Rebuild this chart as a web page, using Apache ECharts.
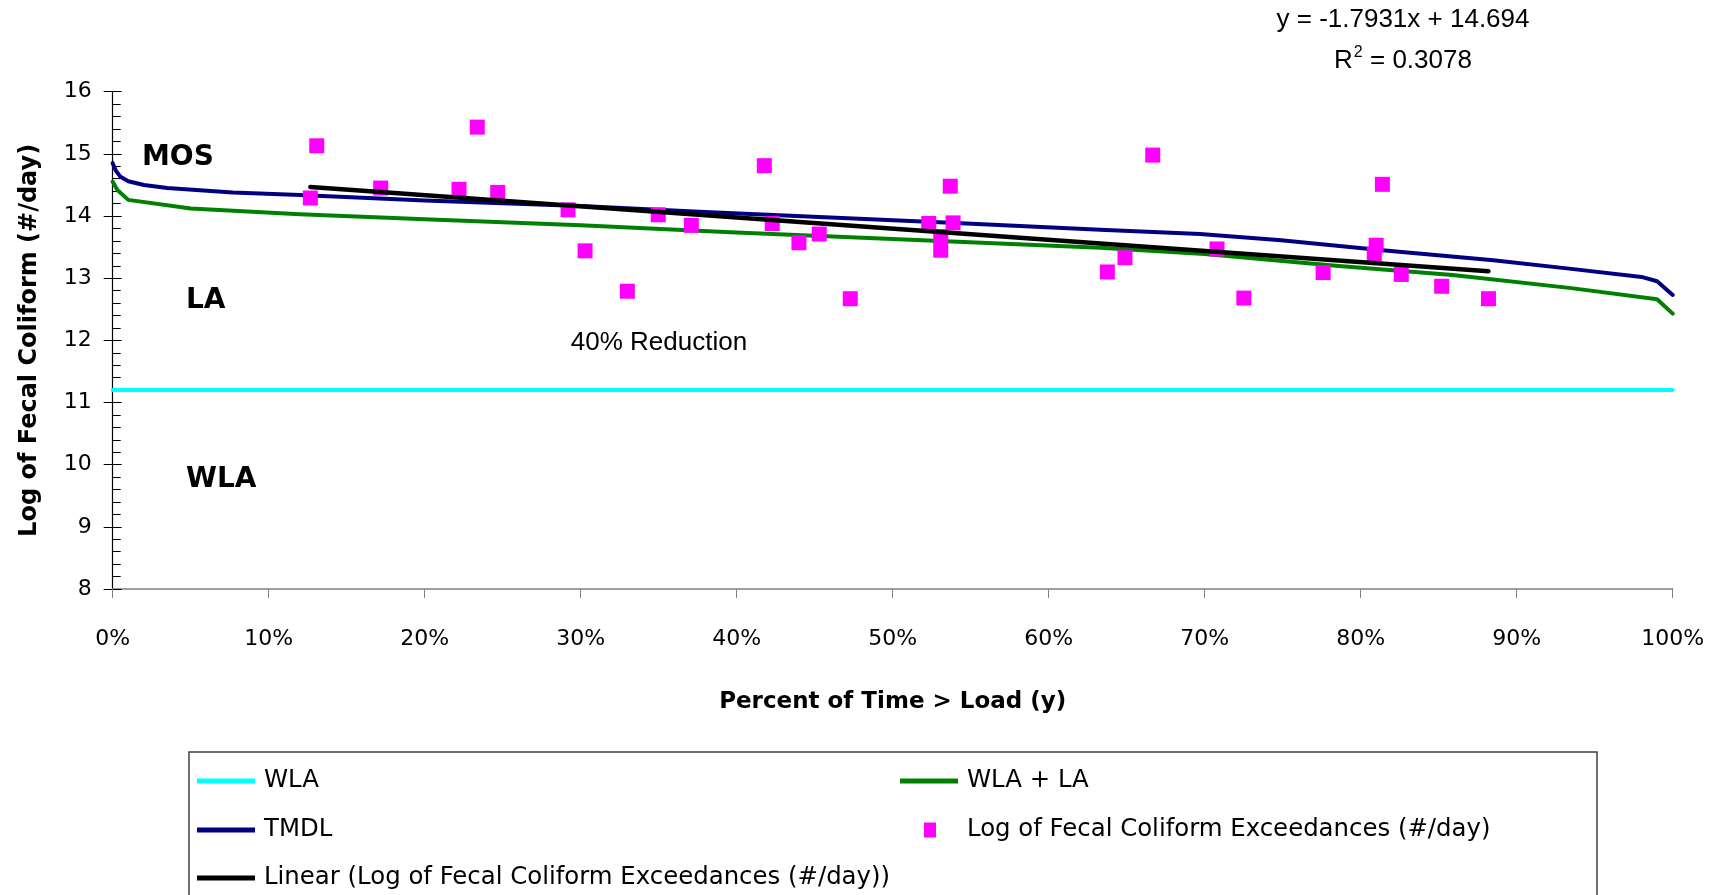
<!DOCTYPE html>
<html><head><meta charset="utf-8">
<script src="https://cdn.jsdelivr.net/npm/echarts@6/dist/echarts.min.js"></script>
<style>html,body{margin:0;padding:0;background:#fff}#c{width:1716px;height:895px}</style>
</head><body><div id="c"></div>
<script>
// ---- data (x = percent of time, y = log of fecal coliform load) ----
const wlaX = [0, 100];
const wlaY = [11.2, 11.2];

const wlaLaX = [0, 0.3, 1, 5, 12, 20, 30, 39.6, 50, 63.3, 70, 78.4, 85.9, 93.5, 99, 100];
const wlaLaY = [14.55, 14.42, 14.26, 14.12, 14.03, 13.95, 13.85, 13.74, 13.63, 13.49, 13.39, 13.20, 13.05, 12.84, 12.66, 12.43];

const tmdlX = [0, 0.2, 0.5, 1, 2, 3.5, 7.7, 12, 20, 30, 37.6, 53.7, 63.3, 69.7, 74.9, 81.4, 88.5, 93.5, 98, 99, 100];
const tmdlY = [14.85, 14.73, 14.63, 14.56, 14.50, 14.45, 14.38, 14.34, 14.25, 14.16, 14.07, 13.89, 13.78, 13.71, 13.61, 13.45, 13.29, 13.15, 13.02, 12.95, 12.73];

const obsX = [12.67, 13.08, 17.18, 22.2, 23.37, 24.68, 29.19, 30.28, 32.99, 34.97, 37.09, 41.77, 42.28, 43.99, 45.29, 47.28, 52.31, 53.08, 53.08, 53.69, 53.87, 63.76, 64.89, 66.67, 70.79, 72.51, 77.59, 80.99, 80.87, 81.39, 82.60, 85.19, 88.19];
const obsY = [14.29, 15.13, 14.45, 14.43, 15.43, 14.38, 14.10, 13.44, 12.79, 14.02, 13.85, 14.81, 13.88, 13.57, 13.71, 12.67, 13.88, 13.67, 13.45, 14.48, 13.89, 13.10, 13.33, 14.98, 13.47, 12.68, 13.09, 13.53, 13.39, 14.51, 13.06, 12.87, 12.67];

const trendX = [12.67, 88.19];
const trendY = [14.467, 13.113];

const seriesNames = ['WLA', 'WLA + LA', 'TMDL', 'Log of Fecal Coliform Exceedances (#/day)', 'Linear (Log of Fecal Coliform Exceedances (#/day))'];
const equationText = 'y = -1.7931x + 14.694';
const r2Parts = ['R', '2', ' = 0.3078'];
const zoneLabels = ['MOS', 'LA', 'WLA'];
const reductionText = '40% Reduction';

// ---- build ----
const pair = (xs, ys) => xs.map((x, i) => [x, ys[i]]);
const FONT = 'DejaVu Sans';
const AFONT = 'Liberation Sans';

const chart = echarts.init(document.getElementById('c'), null, {renderer: 'canvas'});

function lineSeries(name, xs, ys, color, width) {
  return {
    name, type: 'line', data: pair(xs, ys), symbol: 'none', showSymbol: false,
    lineStyle: {color, width, join: 'round', cap: 'round'}, itemStyle: {color}, animation: false, z: 2
  };
}

const LTEXT = {fontFamily: FONT, fontSize: 24.4, color: '#000', lineHeight: 26, padding: [0, 0, 0, 4]};

function legendAt(name, left, centerY, opts) {
  opts = opts || {};
  return Object.assign({
    data: [{name, icon: 'rect'}],
    left, top: centerY - 13, orient: 'horizontal', padding: 0,
    itemWidth: 58, itemHeight: 5, selectedMode: false,
    textStyle: LTEXT
  }, opts);
}

const option = {
  backgroundColor: '#fff',
  animation: false,
  grid: {left: 112.7, right: 43.3, top: 91.7, bottom: 306, containLabel: false, outerBoundsMode: 'none'},
  xAxis: {
    type: 'value', min: 0, max: 100, interval: 10,
    axisLine: {show: true, lineStyle: {color: '#808080', width: 1.5}},
    axisTick: {show: true, length: 9, lineStyle: {color: '#808080', width: 1}},
    axisLabel: {formatter: '{value}%', fontFamily: FONT, fontSize: 22, color: '#000', margin: 39},
    splitLine: {show: false},
    name: 'Percent of Time > Load (y)', nameLocation: 'middle', nameGap: 102,
    nameTextStyle: {fontFamily: FONT, fontSize: 23, fontWeight: 'bold', color: '#000'}
  },
  yAxis: [{
    type: 'value', min: 8, max: 16, interval: 1,
    axisLine: {show: true, lineStyle: {color: '#000', width: 1.2}},
    axisTick: {show: true, length: 9, inside: false, lineStyle: {color: '#000'}},
    axisLabel: {fontFamily: FONT, fontSize: 22, color: '#000', margin: 21},
    splitLine: {show: false},
    name: 'Log of Fecal Coliform (#/day)', nameLocation: 'middle', nameGap: 71, nameRotate: 90,
    nameTextStyle: {fontFamily: FONT, fontSize: 24, fontWeight: 'bold', color: '#000'}
  }, {
    type: 'value', min: 8, max: 16, interval: 1, position: 'left',
    axisLine: {show: false},
    axisTick: {show: true, length: 9, inside: true, lineStyle: {color: '#000'}},
    minorTick: {show: true, splitNumber: 5, length: 8, lineStyle: {color: '#000'}},
    axisLabel: {show: false}, splitLine: {show: false}
  }],
  legend: [
    legendAt(seriesNames[0], 197, 781),
    legendAt(seriesNames[1], 900, 781),
    legendAt(seriesNames[2], 197, 830),
    legendAt(seriesNames[3], 924, 830, {itemWidth: 12, itemHeight: 15,
      textStyle: Object.assign({}, LTEXT, {padding: [0, 0, 0, 26]})}),
    legendAt(seriesNames[4], 197, 878)
  ],
  series: [
    lineSeries(seriesNames[0], wlaX, wlaY, '#00FFFF', 4),
    lineSeries(seriesNames[1], wlaLaX, wlaLaY, '#008000', 4),
    lineSeries(seriesNames[2], tmdlX, tmdlY, '#000080', 4),
    {name: seriesNames[3], type: 'scatter', data: pair(obsX, obsY), symbol: 'rect', symbolSize: 15,
     itemStyle: {color: '#FF00FF', opacity: 1}, z: 3},
    Object.assign(lineSeries(seriesNames[4], trendX, trendY, '#000', 4.5), {z: 4})
  ],
  graphic: [
    {type: 'rect', shape: {x: 189, y: 752, width: 1408, height: 160}, style: {fill: 'none', stroke: '#404040', lineWidth: 1.5}, silent: true},
    {type: 'text', style: {x: 1403, y: 20, text: equationText, fontFamily: AFONT, fontSize: 26, fill: '#000', align: 'center', verticalAlign: 'middle'}},
    {type: 'text', style: {x: 1403, y: 61,
      text: '{a|' + r2Parts[0] + '}{s|' + r2Parts[1] + '}{a|' + r2Parts[2] + '}',
      align: 'center', verticalAlign: 'middle',
      rich: {a: {fontFamily: AFONT, fontSize: 26, fill: '#000'},
             s: {fontFamily: AFONT, fontSize: 16, fill: '#000', padding: [0, 0, 16, 1]}}}},
    {type: 'text', style: {x: 142, y: 158, text: zoneLabels[0], fontFamily: FONT, fontSize: 28, fontWeight: 'bold', fill: '#000', align: 'left', verticalAlign: 'middle'}},
    {type: 'text', style: {x: 186, y: 301, text: zoneLabels[1], fontFamily: FONT, fontSize: 28, fontWeight: 'bold', fill: '#000', align: 'left', verticalAlign: 'middle'}},
    {type: 'text', style: {x: 186, y: 480, text: zoneLabels[2], fontFamily: FONT, fontSize: 28, fontWeight: 'bold', fill: '#000', align: 'left', verticalAlign: 'middle'}},
    {type: 'text', style: {x: 659, y: 343, text: reductionText, fontFamily: AFONT, fontSize: 26, fill: '#000', align: 'center', verticalAlign: 'middle'}}
  ]
};
chart.setOption(option);
</script>
</body></html>
